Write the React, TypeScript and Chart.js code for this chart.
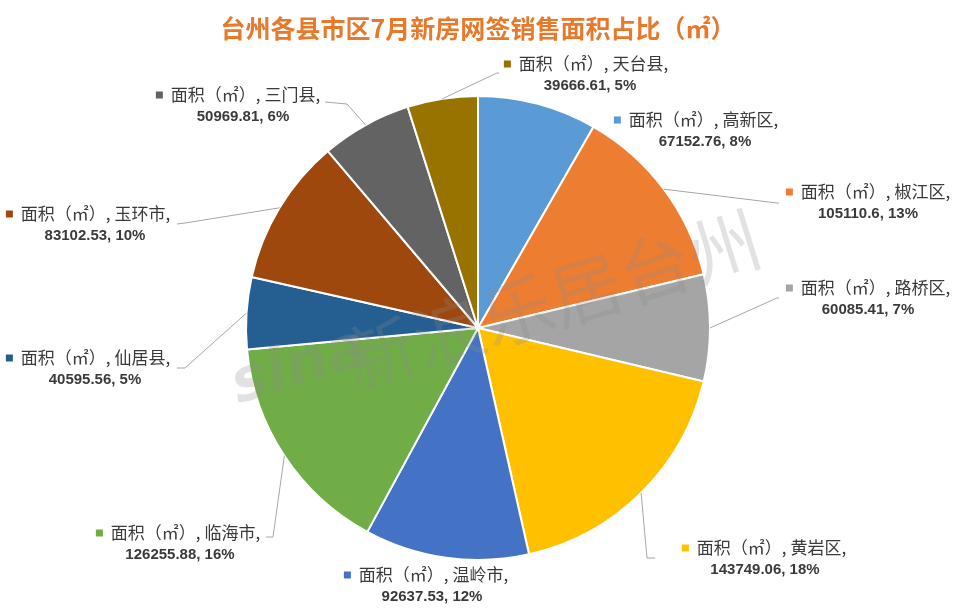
import React, { useEffect, useRef } from "react";
import { Chart, registerables } from "chart.js";

Chart.register(...registerables);

const titleText = "台州各县市区7月新房网签销售面积占比（㎡）";
const seriesName = "面积（㎡）";
const categories = ["高新区", "椒江区", "路桥区", "黄岩区", "温岭市", "临海市", "仙居县", "玉环市", "三门县", "天台县"];
const areaValues = [67152.76, 105110.6, 60085.41, 143749.06, 92637.53, 126255.88, 40595.56, 83102.53, 50969.81, 39666.61];
const percentLabels = ["8%", "13%", "7%", "18%", "12%", "16%", "5%", "10%", "6%", "5%"];
const sliceColors = ["#5B9BD5", "#ED7D31", "#A5A5A5", "#FFC000", "#4472C4", "#70AD47", "#255E91", "#9E480E", "#636363", "#997300"];

// label placement (manual, like Excel's dragged data labels)
const labelCx1 = [696, 868, 868, 764, 426, 178, 88, 88, 238, 586];
const labelCx2 = [705, 868, 868, 765, 432, 180, 95, 95, 243, 590];
const labelY1 = [120, 192, 288, 548, 575, 533, 358, 214, 95, 64];
// leader lines: [elbowX, elbowY, endX, endY] or null
const leaders: (number[] | null)[] = [
  null,
  [777, 203, 779, 203],
  [777, 298, 779, 298],
  [647, 558, 655, 558],
  null,
  [273, 537, 266, 537],
  [185, 368, 177, 368],
  [185, 223, 177, 224],
  [347, 104, 325, 102],
  [497, 73, 499, 73],
];

const labelPlugin = {
  id: "excelLabels",
  afterDraw(chart: any) {
    const ctx = chart.ctx as CanvasRenderingContext2D;
    const meta = chart.getDatasetMeta(0);
    ctx.save();
    meta.data.forEach((arc: any, i: number) => {
      const ld = leaders[i];
      if (!ld) return;
      const { x, y, startAngle, endAngle, outerRadius } = arc.getProps(["x", "y", "startAngle", "endAngle", "outerRadius"], true);
      const mid = (startAngle + endAngle) / 2;
      const sx = x + Math.cos(mid) * outerRadius;
      const sy = y + Math.sin(mid) * outerRadius;
      ctx.beginPath();
      ctx.strokeStyle = "#A6A6A6";
      ctx.lineWidth = 1;
      ctx.moveTo(sx, sy);
      ctx.lineTo(ld[0], ld[1]);
      ctx.lineTo(ld[2], ld[3]);
      ctx.stroke();
    });
    ctx.textBaseline = "middle";
    categories.forEach((cat, i) => {
      const l1 = `${seriesName}, ${cat},`;
      ctx.font = '17px "Noto Sans CJK SC", sans-serif';
      const tw = ctx.measureText(l1).width;
      const msz = 7;
      const gap = 8;
      const total = msz + gap + tw;
      const x0 = labelCx1[i] - total / 2;
      ctx.fillStyle = sliceColors[i];
      ctx.fillRect(x0, labelY1[i] - msz / 2, msz, msz);
      ctx.fillStyle = "#3A3A3A";
      ctx.textAlign = "left";
      ctx.fillText(l1, x0 + msz + gap, labelY1[i]);
      const l2 = `${areaValues[i]}, ${percentLabels[i]}`;
      ctx.font = 'bold 15px "Liberation Sans", "DejaVu Sans", sans-serif';
      ctx.textAlign = "center";
      ctx.fillText(l2, labelCx2[i], labelY1[i] + 22);
    });
    ctx.font = 'bold 25px "Noto Sans CJK SC", sans-serif';
    ctx.fillStyle = "#E8782A";
    ctx.textAlign = "center";
    ctx.fillText(titleText, 478, 28);
    ctx.restore();
  },
};

const watermarkPlugin = {
  id: "watermark",
  afterDatasetsDraw(chart: any) {
    const ctx = chart.ctx as CanvasRenderingContext2D;
    ctx.save();
    ctx.globalAlpha = 0.25;
    ctx.fillStyle = "#8a8a8a";
    ctx.translate(552, 300);
    ctx.rotate(-0.3);
    ctx.font = '72px "Noto Sans CJK SC", sans-serif';
    ctx.textAlign = "center";
    ctx.textBaseline = "middle";
    ctx.fillText("新浪乐居台州", 0, 0);
    ctx.restore();
    ctx.save();
    ctx.globalAlpha = 0.25;
    ctx.fillStyle = "#8a8a8a";
    ctx.translate(300, 368);
    ctx.rotate(-0.3);
    ctx.font = 'italic bold 60px "DejaVu Sans", sans-serif';
    ctx.textAlign = "center";
    ctx.textBaseline = "middle";
    ctx.fillText("sina", 0, 0);
    ctx.restore();
  },
};

export default function App() {
  const ref = useRef<HTMLCanvasElement | null>(null);
  useEffect(() => {
    document.body.style.margin = "0";
    const chart = new Chart(ref.current as HTMLCanvasElement, {
      type: "pie",
      data: {
        labels: categories,
        datasets: [
          {
            label: seriesName,
            data: areaValues,
            backgroundColor: sliceColors,
            borderColor: "#FFFFFF",
            borderWidth: 2,
          },
        ],
      },
      options: {
        animation: false,
        responsive: false,
        radius: 232,
        layout: { padding: { top: 96, bottom: 52, left: 1, right: 0 } },
        plugins: {
          legend: { display: false },
          tooltip: { enabled: false },
          title: { display: false },
        },
      } as any,
      plugins: [watermarkPlugin, labelPlugin],
    });
    return () => chart.destroy();
  }, []);
  return (
    <div style={{ width: 955, height: 612, background: "#fff" }}>
      <canvas ref={ref} width={955} height={612} style={{ display: "block" }} />
    </div>
  );
}
